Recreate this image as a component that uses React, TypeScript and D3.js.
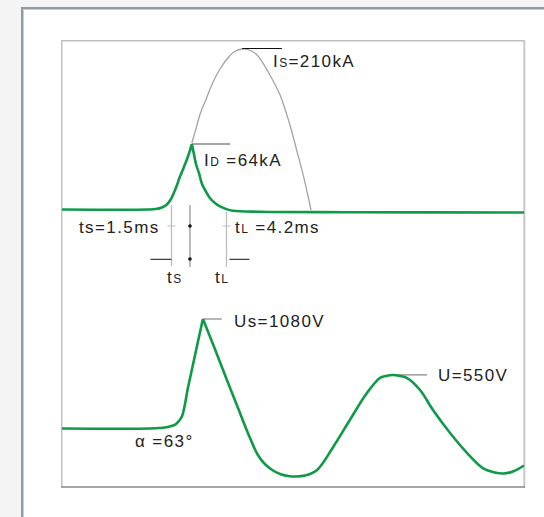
import React from "react";
import * as d3 from "d3";

// ---- data (arbitrary time units 0..100, current in kA-like units, voltage in V-like units)
const currentT = [0, 18.6, 20.3, 21.6, 22.7, 23.6, 24.2, 24.9, 25.5, 26.4, 27.3, 28.1, 28.6, 29.0, 29.7, 30.3, 31.2, 32.0, 33.1, 34.2, 35.5, 37.0, 42.9, 62.3, 100];
const currentV = [0.65, 0.65, 1.3, 3.3, 7.2, 14.3, 22.2, 32.6, 43, 56.1, 70.4, 86.1, 71.7, 60, 47, 33.9, 23.5, 15.7, 9.1, 4.6, 1.3, -1, -2.3, -2.9, -3.3];
const currentPeakIndex = 11;

const surgeT = [28.1, 28.8, 29.9, 31.2, 32.7, 34.2, 35.9, 37.4, 39.0, 40.5, 42.0, 43.5, 45.0, 47.2, 49.4, 50.9, 52.2, 53.0, 53.9];
const surgeV = [87.4, 101.7, 125.2, 144.8, 167, 183.9, 198.3, 206.7, 210, 208.7, 203.5, 191.7, 176.1, 150, 109.6, 75.7, 45.7, 24.8, 0];

const voltT = [0, 19.0, 21.2, 22.9, 24.5, 25.3, 26.0, 27.3, 28.8, 30.5, 32.5, 34.6, 38.1, 40.7, 42.4, 43.9, 45.5, 47.2, 48.9, 50.6, 52.6, 55.2, 58.7, 62.3, 66.0, 68.8, 70.1, 71.6, 73.2, 74.7, 77.5, 80.3, 84.0, 87.7, 91.1, 93.7, 95.5, 97.6, 100];
const voltV = [0, 0, 5, 15, 39, 74, 123, 409, 725, 1080, 853, 607, 202, -94, -261, -350, -409, -449, -468, -473, -464, -409, -182, 84, 350, 498, 518, 528, 518, 498, 380, 182, -44, -242, -390, -434, -444, -424, -365];
const voltPeakIndex = 9;

const GREEN = "#0f9a48";
const TEXT = "#222";
const FONT = "'Liberation Sans', Arial, Helvetica, sans-serif";

export default function App() {
  const x = d3.scaleLinear().domain([0, 100]).range([62, 524]);
  const yI = d3.scaleLinear().domain([0, 210]).range([210, 49]);
  const yU = d3.scaleLinear().domain([0, 1080]).range([428.5, 319]);

  const curve = d3.curveCatmullRom.alpha(0.5);
  const mk = (ts: number[], vs: number[], y: d3.ScaleLinear<number, number>) =>
    d3.line<number>().x((i) => x(ts[i])).y((i) => y(vs[i])).curve(curve);
  const idx = (a: number, b: number) => d3.range(a, b + 1);

  const lineI = mk(currentT, currentV, yI);
  const lineS = mk(surgeT, surgeV, yI);
  const lineU = mk(voltT, voltV, yU);

  const pathI = (lineI(idx(0, currentPeakIndex)) || "") + (lineI(idx(currentPeakIndex, currentT.length - 1)) || "");
  const pathU = (lineU(idx(0, voltPeakIndex)) || "") + (lineU(idx(voltPeakIndex, voltT.length - 1)) || "");
  const pathS = lineS(idx(0, surgeT.length - 1)) || "";

  const tsX = x(23.7);
  const midX = x(27.7);
  const tlX = x(35.6);

  const fs = 17;
  const ls = 1.4;
  const txt = { fontFamily: FONT, fontSize: fs, fill: TEXT, letterSpacing: ls } as any;
  const sub = { fontSize: 12 } as any;

  return (
    <svg width={544} height={517} style={{ position: "absolute", left: 0, top: 0 }}>
      <rect x={0} y={0} width={544} height={517} fill="#f4f4f4" />
      <rect x={21} y={7} width={600} height={600} fill="#939aa0" />
      <rect x={23} y={9} width={600} height={600} fill="#c9cdd1" />
      <rect x={24} y={10} width={600} height={600} fill="#ffffff" />

      {/* inner frame */}
      <line x1={61.75} y1={40.5} x2={61.75} y2={487} stroke="#c2c2c2" strokeWidth={1.5} />
      <line x1={61} y1={40.75} x2={525} y2={40.75} stroke="#bdbdbd" strokeWidth={1.5} />
      <line x1={524.3} y1={40} x2={524.3} y2={488} stroke="#c8c8c8" strokeWidth={2} />
      <line x1={61} y1={487} x2={525} y2={487} stroke="#8a8a8a" strokeWidth={1.5} />

      {/* surge current (grey) */}
      <path d={pathS} fill="none" stroke="#a3a3a3" strokeWidth={1.3} />
      {/* marker lines */}
      <line x1={x(39.0)} x2={x(47.6)} y1={yI(210) - 0.5} y2={yI(210) - 0.5} stroke="#111" strokeWidth={1} />
      <line x1={x(28.1)} x2={x(36.4)} y1={yI(86.1)} y2={yI(86.1)} stroke="#888" strokeWidth={1.3} />

      {/* timing construction lines */}
      <line x1={tsX} x2={tsX} y1={205} y2={266} stroke="#bdbdbd" strokeWidth={1.3} />
      <line x1={midX} x2={midX} y1={205} y2={267} stroke="#777" strokeWidth={1} />
      <line x1={tlX} x2={tlX} y1={212} y2={267} stroke="#bdbdbd" strokeWidth={1.3} />
      <line x1={tsX - 4} x2={tsX + 4} y1={226} y2={226} stroke="#bdbdbd" strokeWidth={1} />
      <line x1={tlX - 4} x2={tlX + 4} y1={226} y2={226} stroke="#bdbdbd" strokeWidth={1} />
      <circle cx={midX} cy={226} r={1.8} fill="#111" />
      <circle cx={midX} cy={259} r={1.8} fill="#111" />
      <line x1={tsX - 21} x2={tsX} y1={259.3} y2={259.3} stroke="#111" strokeWidth={1} />
      <line x1={tlX + 3} x2={tlX + 23} y1={259.3} y2={259.3} stroke="#111" strokeWidth={1} />

      {/* current (green) */}
      <path d={pathI} fill="none" stroke={GREEN} strokeWidth={2.6} strokeLinejoin="round" />

      {/* voltage */}
      <line x1={x(30.5)} x2={x(34.6)} y1={yU(1080)} y2={yU(1080)} stroke="#888" strokeWidth={1.2} />
      <line x1={x(71.6)} x2={x(79)} y1={yU(528)} y2={yU(528)} stroke="#888" strokeWidth={1.2} />
      <path d={pathU} fill="none" stroke={GREEN} strokeWidth={2.6} strokeLinejoin="round" />

      {/* labels */}
      <text x={273} y={66.5} {...txt}>I<tspan {...sub}>S</tspan>=210kA</text>
      <text x={204} y={166} {...txt}>I<tspan {...sub}>D</tspan> =64kA</text>
      <text x={79} y={233} {...txt}>ts=1.5ms</text>
      <text x={235} y={233} {...txt}>t<tspan {...sub}>L</tspan> =4.2ms</text>
      <text x={167} y={283} {...txt}>t<tspan {...sub}>S</tspan></text>
      <text x={215} y={283} {...txt}>t<tspan {...sub}>L</tspan></text>
      <text x={234} y={327} {...txt}>Us=1080V</text>
      <text x={438} y={381} {...txt}>U=550V</text>
      <text x={135} y={447} {...txt}>α =63°</text>
    </svg>
  );
}
